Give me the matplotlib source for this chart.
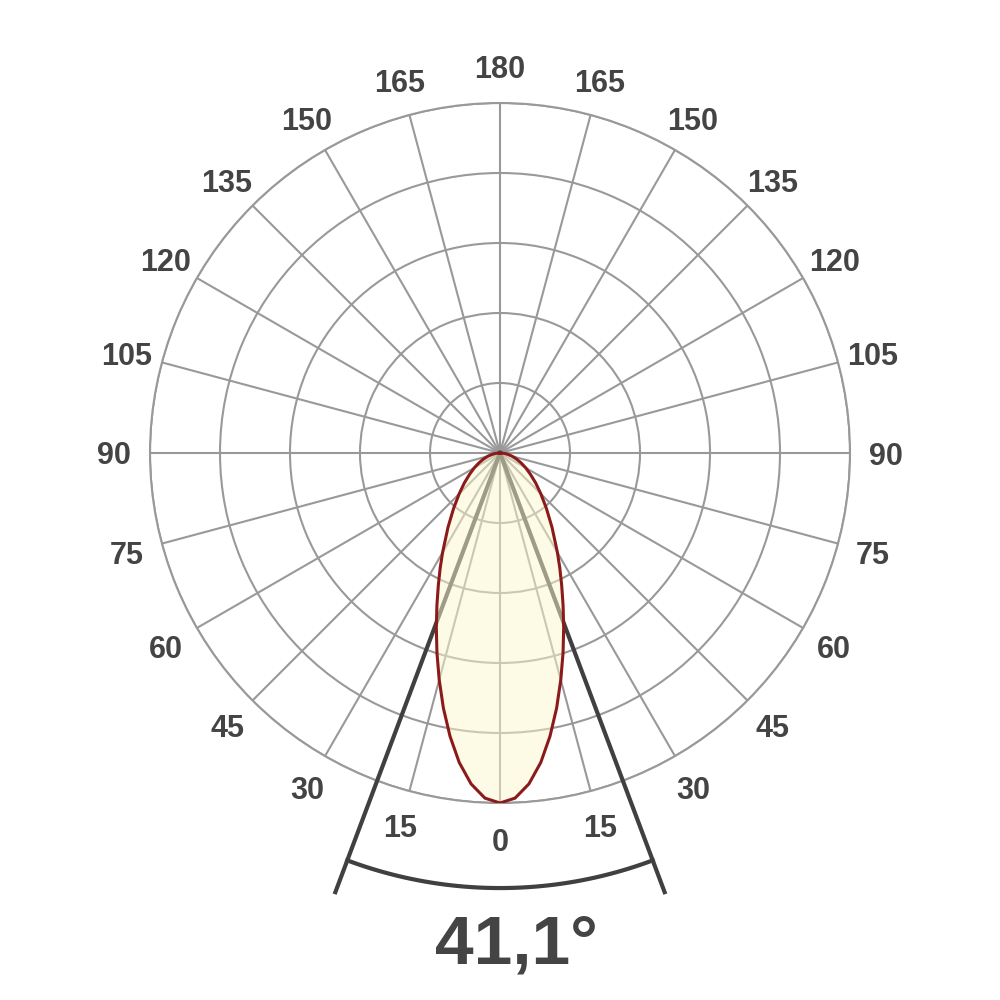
import numpy as np
import matplotlib
matplotlib.use("Agg")
import matplotlib.pyplot as plt

# relative intensity (symmetric about 0)
angles_deg = [0, 2.5, 5, 7.5, 10, 12.5, 15, 17.5, 20, 22.5, 25, 27.5, 30,
              35, 40, 45, 50, 55, 60, 65, 70, 75, 80, 85, 90]
intensity = [1.000, 0.987, 0.949, 0.892, 0.822, 0.747, 0.671, 0.599, 0.532,
             0.471, 0.417, 0.370, 0.328, 0.259, 0.206, 0.165, 0.133, 0.106,
             0.085, 0.066, 0.050, 0.036, 0.024, 0.012, 0.0]
beam_angle = 41.1
tick_angles = list(range(0, 360, 15))
tick_labels = [str(a if a <= 180 else 360 - a) for a in tick_angles]
rings = [0.2, 0.4, 0.6, 0.8, 1.0]

grid_col = "#999999"
text_col = "#444444"

plt.rcParams['font.family'] = ['Liberation Sans', 'DejaVu Sans']

fig = plt.figure(figsize=(10, 10), dpi=100)
ax = fig.add_axes([0.15, 0.197, 0.7, 0.7], projection='polar')
ax.set_theta_zero_location('S')
ax.set_theta_direction(1)
ax.set_ylim(0, 1.0)
ax.set_xticks(np.radians(tick_angles))
ax.set_xticklabels([])
ax.set_yticks(rings)
ax.set_yticklabels([])
ax.grid(True, color=grid_col, linewidth=1.5)
ax.spines['polar'].set_color(grid_col)
ax.spines['polar'].set_linewidth(1.5)

for a, lab in zip(tick_angles, tick_labels):
    ax.text(np.radians(a), 1.103, lab, ha='center', va='center_baseline', fontsize=22,
            fontweight='bold', color=text_col, clip_on=False)

# beam angle lines and arc
half = np.radians(beam_angle / 2)
for s in (-1, 1):
    ax.plot([s * half, s * half], [0, 1.34], color='#404040', lw=3, clip_on=False, zorder=3)
arc_t = np.linspace(-half, half, 100)
ax.plot(arc_t, np.full_like(arc_t, 1.243), color='#404040', lw=3, clip_on=False, zorder=3)

# full curve
th = np.radians(angles_deg)
r = np.array(intensity)
theta = np.concatenate([-th[::-1], th[1:]])
rr = np.concatenate([r[::-1], r[1:]])
ax.fill(theta, rr, color=(0.99, 0.97, 0.80), alpha=0.5, zorder=4, lw=0)
ax.plot(theta, rr, color='#8B1A1A', lw=2.2, zorder=5)

fig.text(0.516, 0.055, f"{beam_angle:.1f}°".replace('.', ','), ha='center', va='center',
         fontsize=50, fontweight='bold', color=text_col)

fig.savefig("out.png", dpi=100, facecolor='white')
